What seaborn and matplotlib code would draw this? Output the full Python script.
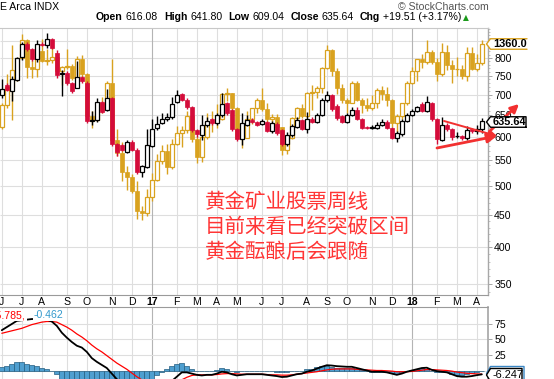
import numpy as np
import pandas as pd
import matplotlib
matplotlib.use("Agg")
import matplotlib.pyplot as plt
import seaborn as sns
from matplotlib.patches import Polygon
from matplotlib.lines import Line2D
from matplotlib.transforms import Bbox, blended_transform_factory
from matplotlib.ticker import FixedLocator, FixedFormatter, NullLocator

# weekly bars, first week starts Monday 2016-06-06
week_start = "2016-06-06"

# gold miners index (black / red candles)
gdm_open = [698, 725, 710, 738, 804, 842, 826, 796, 843, 838,
            858, 814, 754, 758, 730, 718, 745, 730, 636, 637,
            680, 662, 690, 585, 583, 568, 589, 572, 527, 537,
            580, 620, 631, 640, 644, 681, 701, 686, 668, 614,
            604, 627, 639, 630, 650, 678, 662, 617, 595, 627,
            638, 634, 628, 633, 612, 628, 615, 584, 604, 622,
            637, 618, 641, 634, 650, 686, 699, 672, 646, 634,
            650, 662, 640, 621, 619, 620, 627, 634, 619, 598,
            606, 636, 650, 660, 675, 660, 678, 640, 593, 627,
            617, 601, 601, 597, 616, 612, 616.08]
gdm_high = [741, 730, 748, 804, 848, 848, 830, 854, 848, 876,
            862, 824, 766, 762, 733, 790, 748, 735, 660, 690,
            683, 715, 693, 587, 585, 593, 592, 575, 541, 618,
            641, 646, 655, 655, 694, 712, 704, 690, 671, 618,
            650, 645, 642, 655, 703, 682, 665, 620, 655, 650,
            642, 636, 640, 636, 636, 632, 618, 611, 628, 645,
            640, 657, 645, 654, 690, 708, 702, 675, 650, 655,
            668, 668, 643, 624, 626, 632, 640, 638, 622, 612,
            640, 654, 665, 672, 680, 695, 682, 643, 645, 630,
            620, 611, 604, 624, 620, 625, 641.80]
gdm_low = [692, 708, 683, 735, 795, 820, 790, 788, 835, 829,
           826, 744, 697, 726, 705, 716, 730, 630, 625, 632,
           655, 660, 580, 560, 570, 566, 570, 523, 518, 535,
           578, 615, 628, 636, 640, 678, 684, 665, 610, 600,
           593, 622, 627, 626, 645, 650, 613, 590, 583, 624,
           630, 624, 625, 610, 608, 604, 580, 580, 600, 619,
           615, 608, 630, 631, 646, 682, 660, 638, 630, 630,
           646, 637, 616, 617, 616, 617, 624, 617, 594, 588,
           602, 632, 647, 657, 656, 656, 636, 584, 590, 612,
           593, 596, 593, 592, 608, 606, 609.04]
gdm_close = [714, 712, 741, 800, 842, 826, 796, 843, 838, 858,
             829, 752, 756, 730, 709, 745, 735, 635, 638, 680,
             657, 691, 585, 568, 572, 589, 572, 527, 538, 583,
             618, 629, 641, 644, 676, 699, 686, 668, 614, 606,
             627, 636, 630, 650, 676, 654, 617, 595, 630, 638,
             634, 627, 635, 612, 630, 608, 584, 604, 623, 638,
             618, 640, 634, 650, 686, 699, 665, 642, 634, 650,
             662, 640, 620, 619, 622, 627, 634, 620, 597, 607,
             636, 650, 660, 668, 660, 680, 640, 595, 627, 616,
             600, 602, 597, 615, 612, 618, 635.64]

# gold price overlay (goldenrod candles)
gold_open = [1243, 1273, 1298, 1322, 1339, 1366, 1327, 1323, 1350, 1335,
             1336, 1341, 1321, 1326, 1328, 1310, 1338, 1316, 1257, 1252,
             1266, 1275, 1304, 1225, 1208, 1183, 1177, 1159, 1134, 1132,
             1152, 1173, 1197, 1210, 1190, 1220, 1234, 1239, 1257, 1227,
             1202, 1229, 1249, 1249, 1254, 1288, 1289, 1268, 1228, 1228,
             1254, 1268, 1280, 1267, 1254, 1256, 1242, 1212, 1228, 1255,
             1269, 1258, 1289, 1291, 1297, 1325, 1351, 1320, 1297, 1280,
             1275, 1304, 1280, 1272, 1269, 1275, 1294, 1288, 1280, 1248,
             1257, 1275, 1303, 1320, 1338, 1333, 1348, 1333, 1316, 1348,
             1330, 1323, 1323, 1313, 1347, 1323, 1332]
gold_high = [1276, 1316, 1358, 1340, 1375, 1368, 1336, 1356, 1368, 1353,
             1358, 1347, 1328, 1352, 1331, 1343, 1344, 1318, 1265, 1274,
             1284, 1307, 1338, 1240, 1222, 1191, 1181, 1172, 1140, 1162,
             1182, 1207, 1219, 1220, 1226, 1244, 1244, 1264, 1264, 1230,
             1232, 1261, 1265, 1274, 1289, 1296, 1290, 1270, 1236, 1265,
             1269, 1282, 1296, 1275, 1260, 1260, 1243, 1231, 1256, 1270,
             1274, 1291, 1301, 1299, 1326, 1358, 1352, 1325, 1302, 1283,
             1306, 1306, 1283, 1283, 1287, 1297, 1299, 1298, 1281, 1260,
             1276, 1307, 1326, 1338, 1345, 1366, 1351, 1340, 1362, 1358,
             1337, 1341, 1329, 1356, 1356, 1345, 1366]
gold_low = [1240, 1268, 1252, 1307, 1338, 1310, 1310, 1312, 1334, 1330,
            1332, 1316, 1301, 1323, 1308, 1309, 1311, 1250, 1241, 1251,
            1261, 1273, 1221, 1204, 1171, 1160, 1156, 1124, 1123, 1128,
            1147, 1172, 1194, 1181, 1187, 1218, 1216, 1234, 1223, 1195,
            1196, 1227, 1236, 1241, 1252, 1278, 1261, 1227, 1214, 1228,
            1247, 1261, 1265, 1248, 1236, 1238, 1205, 1207, 1227, 1250,
            1255, 1256, 1266, 1282, 1290, 1323, 1314, 1288, 1276, 1261,
            1275, 1278, 1262, 1264, 1266, 1269, 1279, 1271, 1243, 1236,
            1253, 1273, 1302, 1307, 1325, 1331, 1331, 1307, 1313, 1322,
            1303, 1313, 1309, 1307, 1322, 1321, 1330]
gold_close = [1273, 1298, 1322, 1339, 1366, 1327, 1323, 1350, 1335, 1336,
              1341, 1321, 1326, 1328, 1310, 1338, 1316, 1257, 1252, 1266,
              1275, 1304, 1225, 1208, 1183, 1177, 1159, 1134, 1132, 1152,
              1173, 1197, 1210, 1190, 1220, 1234, 1239, 1257, 1227, 1202,
              1229, 1249, 1249, 1254, 1288, 1289, 1268, 1228, 1228, 1254,
              1268, 1280, 1267, 1254, 1256, 1242, 1212, 1228, 1255, 1269,
              1258, 1289, 1291, 1297, 1325, 1351, 1320, 1297, 1280, 1275,
              1304, 1280, 1272, 1269, 1275, 1294, 1288, 1280, 1248, 1257,
              1275, 1303, 1320, 1338, 1333, 1348, 1333, 1316, 1348, 1330,
              1323, 1323, 1313, 1347, 1323, 1332, 1360]

# MACD(12,26,9) panel
macd_line = [65, 70, 75, 80, 81, 82, 83, 83, 82, 82,
             79, 72, 61, 53, 46, 40, 37, 30, 20, 14,
             9, 4, -5, -14, -20, -26, -31, -37, -41, -40,
             -39, -34, -29, -23, -17, -10, -3, -3, -5, -7,
             -8, -7, -7, -5, -2, -3, -6, -8, -7, -6,
             -6, -6, -6, -7, -8, -9, -10.5, -10, -8, -6,
             -5, -2, 0, 3, 6, 8.5, 8, 7, 6.5, 6,
             6, 4, 2, 0, -2, -2, -2, -3, -5, -7,
             -5, -2, 0, 2, 4, 4.5, 1, -1, -2, -3,
             -6, -9, -10, -10, -9, -7.5, -6.247]
macd_signal = [60, 62, 64, 66, 68, 71, 74, 76, 78, 79,
               79, 78, 74, 70, 65, 59, 54, 48, 41, 35,
               30, 24, 18, 12, 7, 2, -4, -10, -15, -20,
               -24, -26, -27, -26, -24, -20, -15, -11, -8, -7,
               -7, -7, -7, -6.5, -5.5, -5, -5, -5.5, -6, -6,
               -6, -6, -6, -6.5, -7, -7, -7.5, -7.5, -7, -6,
               -5, -4, -3, -2, -0.5, 1, 2, 2.5, 2.5, 2.5,
               2.5, 2, 1.5, 1, 0.5, 0, 0, -0.5, -1, -2,
               -2, -2, -1.5, -0.5, 0.5, 1.5, 1.5, 1, 0.5, 0,
               -1, -2.5, -3.5, -4.5, -5, -5.5, -5.785]
macd_hist = [5, 8, 11, 14, 13, 11, 9, 7, 4, 3,
             0, -6, -13, -17, -19, -19, -17, -18, -21, -21,
             -21, -20, -23, -26, -27, -28, -27, -27, -26, -20,
             -15, -8, -2, 3, 7, 10, 12, 8, 3, 0,
             -1, 0, 0, 1.5, 3.5, 2, -1, -2.5, -1, 0,
             0, 0, 0, -0.5, -1, -2, -3, -2.5, -1, 0,
             0, 2, 3, 5, 6.5, 7.5, 6, 4.5, 4, 3.5,
             3.5, 2, 0.5, -1, -2.5, -2, -2, -2.5, -4, -5,
             -3, 0, 1.5, 2.5, 3.5, 3, -0.5, -2, -2.5, -3,
             -5, -6.5, -6.5, -5.5, -4, -2, -0.462]

price_ticks = [350, 400, 450, 500, 550, 600, 650, 700, 750, 800, 850]
price_labels = ["350", "400", "450", "500", "550", "600", "650", "700", "750", "800", ""]
macd_ticks = [25, 50, 75]

note_lines = ["黄金矿业股票周线", "目前来看已经突破区间", "黄金酝酿后会跟随"]

sns.set_theme(style="white")
plt.rcParams["font.family"] = ["Liberation Sans", "DejaVu Sans"]

W, H = 554, 379
fig = plt.figure(figsize=(W / 100, H / 100), dpi=100)
fig.patch.set_facecolor("white")


def rect(x0, y0, x1, y1):
    # pixel box (top-left origin) -> figure fraction
    return [x0 / W, 1 - y1 / H, (x1 - x0) / W, (y1 - y0) / H]


def fp(x, y):
    return (x / W, 1 - y / H)


RED = "#d40c3a"
GOLD = "#d9a21f"
FS = 7.6
TAG_CLIP = Bbox.from_extents(0, 0, 527, H)

weeks = pd.date_range(week_start, periods=len(gdm_close), freq="7D")
idx = np.arange(len(weeks))
month_pos = [i for i in idx if i == 0 or weeks[i].month != weeks[i - 1].month]
month_lab = ["%02d" % (weeks[i].year % 100) if weeks[i].month == 1
             else weeks[i].strftime("%b")[0] for i in month_pos]
year_pos = [i for i in month_pos if weeks[i].month == 1]

ax = fig.add_axes(rect(0, 28, 488, 295))
axg = ax.twinx()
ax.set_zorder(axg.get_zorder() + 1)
ax.patch.set_visible(False)
axm = fig.add_axes(rect(0, 307, 488, 395))

xlim = (-0.36, 97.24)
ax.set_yscale("log")
axg.set_yscale("log")
ax.set_xlim(*xlim)
axm.set_xlim(*xlim)
ax.set_ylim(336.2, 892.8)
axg.set_ylim(1034.9, 1383.9)
axm.set_ylim(-39.5, 102.4)

# grid (drawn on the bottom axis so candles sit on top)
tr = blended_transform_factory(axg.transAxes, ax.transData)
axg.hlines(price_ticks, 0, 1, transform=tr, colors="#dedede", lw=0.8, zorder=0)
for axis in (axg, axm):
    mcol = ["#b4b4b4" if p in year_pos else "#dedede" for p in month_pos]
    axis.vlines(month_pos, 0, 1, transform=axis.get_xaxis_transform(),
                colors=mcol, lw=0.8, zorder=0)
axm.hlines([0] + macd_ticks, 0, 1, transform=axm.get_yaxis_transform(),
           colors="#dedede", lw=0.8, zorder=0)


def candles(axis, o, h, l, c, up_col, down_col):
    o, h, l, c = (np.asarray(v, dtype=float) for v in (o, h, l, c))
    up = c >= o
    lo, hi = np.minimum(o, c), np.maximum(o, c)
    axis.vlines(idx, l, h, colors=np.where(up, up_col, down_col), lw=1.0, zorder=2)
    axis.bar(idx[up], (hi - lo)[up], bottom=lo[up], width=0.8, facecolor="white",
             edgecolor=up_col, linewidth=0.9, zorder=3)
    axis.bar(idx[~up], (hi - lo)[~up], bottom=lo[~up], width=0.8, facecolor=down_col,
             edgecolor=down_col, linewidth=0.5, zorder=3)


candles(axg, gold_open, gold_high, gold_low, gold_close, GOLD, GOLD)
candles(ax, gdm_open, gdm_high, gdm_low, gdm_close, "black", RED)
axg.set_ylim(1034.9, 1383.9)
ax.set_xlim(*xlim)

# axes cosmetics
ax.yaxis.tick_right()
ax.yaxis.set_major_locator(FixedLocator(price_ticks))
ax.yaxis.set_major_formatter(FixedFormatter(price_labels))
ax.yaxis.set_minor_locator(FixedLocator(np.arange(340, 900, 10)))
ax.yaxis.set_minor_formatter(FixedFormatter([]))
ax.tick_params(axis="y", which="major", right=True, left=False, labelright=True,
               labelleft=False, length=3, width=0.6, color="#999999", pad=1.5,
               labelsize=FS, labelcolor="black")
ax.tick_params(axis="y", which="minor", right=True, left=False, length=1.5,
               width=0.5, color="#aaaaaa")
axg.yaxis.set_major_locator(NullLocator())
axg.yaxis.set_minor_locator(NullLocator())
for s in axg.spines.values():
    s.set_visible(False)

ax.set_xticks(month_pos)
ax.set_xticklabels(month_lab)
ax.tick_params(axis="x", bottom=True, length=0, pad=1.2, labelsize=FS, labelcolor="black")
for lbl in ax.get_xticklabels():
    if lbl.get_text().isdigit():
        lbl.set_fontweight("bold")

ax.spines["left"].set_visible(False)
ax.spines["top"].set_color("#c8c8c8")
ax.spines["top"].set_linewidth(0.8)
ax.spines["right"].set_color("#a8a8a8")
ax.spines["right"].set_linewidth(1.0)
ax.spines["bottom"].set_color("#9a9a9a")
ax.spines["bottom"].set_linestyle((0, (1, 1)))
ax.spines["bottom"].set_linewidth(0.8)
ax.set_xlabel("")
ax.set_ylabel("")
axg.set_ylabel("")

# MACD panel
axm.bar(idx, macd_hist, width=1.0, color="#4f9fd0", edgecolor="#245d80",
        linewidth=0.5, zorder=2)
sns.lineplot(x=idx, y=macd_signal, ax=axm, color="#ff0000", lw=0.9, zorder=3)
sns.lineplot(x=idx, y=macd_line, ax=axm, color="black", lw=1.3, zorder=4)
axm.set_xlim(*xlim)
axm.set_ylim(-39.5, 102.4)
axm.set_xticks([])
axm.yaxis.tick_right()
axm.set_yticks(macd_ticks)
axm.set_yticklabels([str(t) for t in macd_ticks])
axm.tick_params(axis="y", right=True, left=False, length=3, width=0.6,
                color="#999999", pad=1.5, labelsize=FS, labelcolor="black")
axm.spines["left"].set_visible(False)
axm.spines["bottom"].set_visible(False)
axm.spines["top"].set_color("#9a9a9a")
axm.spines["top"].set_linestyle((0, (1, 1)))
axm.spines["top"].set_linewidth(0.8)
axm.spines["right"].set_color("#a8a8a8")
axm.set_xlabel("")
axm.set_ylabel("")

legend_box = dict(facecolor="white", edgecolor="none", pad=0.6)
fig.text(*fp(-7, 315), "-5.785,", color="#ff0000", fontsize=FS, va="center",
         ha="left", bbox=legend_box, zorder=10)
fig.text(*fp(34, 315), "-0.462", color="#3399cc", fontsize=FS, va="center",
         ha="left", bbox=legend_box, zorder=10)

# header
fig.text(*fp(0, 6.5), "E Arca INDX", fontsize=FS, va="center", ha="left", color="black")
fig.text(*fp(489, 6.5), "© StockCharts.com", fontsize=FS, va="center", ha="right",
         color="#555555")
renderer = fig.canvas.get_renderer()
parts = [("Open", "bold", 3), ("616.08", "normal", 6), ("High", "bold", 3),
         ("641.80", "normal", 6), ("Low", "bold", 3), ("609.04", "normal", 6),
         ("Close", "bold", 3), ("635.64", "normal", 6), ("Chg", "bold", 3),
         ("+19.51 (+3.17%)", "normal", 1)]
x = 96
for s, w, gap in parts:
    t = fig.text(*fp(x, 17.5), s, fontsize=FS, fontweight=w, va="center", ha="left",
                 color="black")
    x += t.get_window_extent(renderer).width + gap
fig.text(*fp(x, 17.5), "▲", fontsize=5.5, va="center", ha="left", color="#1a9a1a",
         family=["DejaVu Sans"])


# value tags on the right (the tag strip is cut at x = 527)
def tag(y, text, edge, x1, h=10.5, weight="bold", z=20):
    top, bot = y - h / 2, y + h / 2
    shape = [fp(486.5, y), fp(490.5, top), fp(x1, top), fp(x1, bot), fp(490.5, bot)]
    fig.add_artist(Polygon(shape, closed=True, facecolor="white", edgecolor="none",
                           transform=fig.transFigure, zorder=z))
    outline = [fp(x1, bot), fp(490.5, bot), fp(486.5, y), fp(490.5, top), fp(x1, top)]
    if x1 < 527:
        outline = outline + [fp(x1, bot)]
    fig.add_artist(Line2D([p[0] for p in outline], [p[1] for p in outline],
                          color=edge, lw=1.0, transform=fig.transFigure, zorder=z + 0.5))
    if text:
        t = fig.text(*fp(493, y + 0.3), text, fontsize=FS + 0.3, fontweight=weight,
                     va="center", ha="left", color="black", zorder=z + 1)
        t.set_clip_box(TAG_CLIP)
        t.set_clip_on(True)


tag(44, "1360.00", GOLD, 527)
tag(122, "635.64", "black", 526)
tag(373.5, "", "#3a86c4", 524, h=14)
tag(375, "-6.247", "black", 522, h=13, weight="normal", z=30)

# annotation
for i, line in enumerate(note_lines):
    fig.text(*fp(205, 201.5 + 25 * i), line, fontsize=14.8, color="#ff3535",
             va="center", ha="left", family=["Noto Sans CJK SC", "DejaVu Sans"],
             fontweight="light", zorder=15)

arrow_kw = dict(xycoords="figure pixels", textcoords="figure pixels",
                annotation_clip=False, zorder=40)
ax.annotate("", xy=(497, H - 136), xytext=(444, H - 121),
            arrowprops=dict(arrowstyle="-|>", color="#f23030", lw=1.4,
                            mutation_scale=12, shrinkA=0, shrinkB=0), **arrow_kw)
ax.annotate("", xy=(497, H - 136), xytext=(437, H - 148),
            arrowprops=dict(arrowstyle="-|>", color="#f23030", lw=2.0,
                            mutation_scale=14, shrinkA=0, shrinkB=0), **arrow_kw)
ax.annotate("", xy=(519, H - 104), xytext=(491, H - 130),
            arrowprops=dict(arrowstyle="-|>", color="#f23030", lw=2.0,
                            mutation_scale=12, shrinkA=0, shrinkB=0), **arrow_kw)

fig.savefig("out.png", dpi=100)
